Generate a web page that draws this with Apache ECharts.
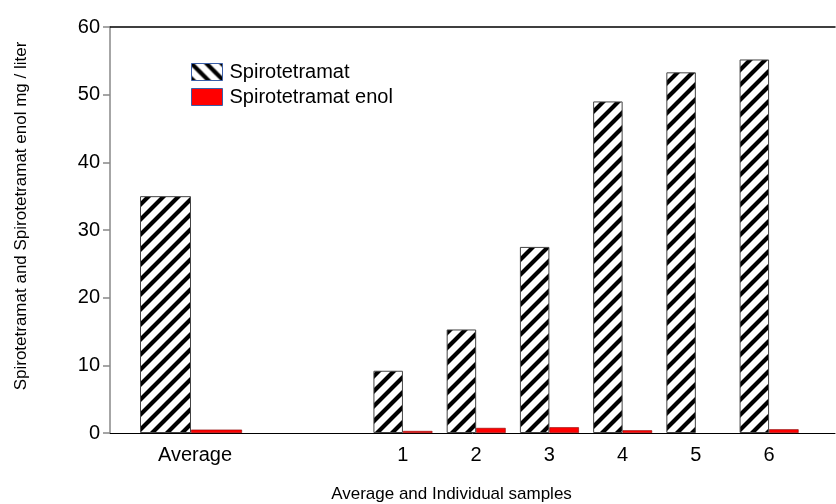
<!DOCTYPE html>
<html>
<head>
<meta charset="utf-8">
<script src="https://cdn.jsdelivr.net/npm/echarts@6/dist/echarts.min.js"></script>
<style>
html,body{margin:0;padding:0;background:#fff;}
#chart{width:836px;height:504px;}
</style>
</head>
<body>
<div id="chart"></div>
<script>
// ---- data ----
var sampleLabels = ['1', '2', '3', '4', '5', '6'];
var spiroSamples = [9.2, 15.3, 27.5, 49.0, 53.3, 55.2];
var enolSamples = [0.3, 0.75, 0.85, 0.4, null, 0.55];
var averageLabel = 'Average';
var spiroAverage = [35.0];
var enolAverage = [0.5];
var seriesNames = ['Spirotetramat', 'Spirotetramat enol'];
var yTicks = [0, 10, 20, 30, 40, 50, 60];

function hatch(back) {
  var s = 15;
  var c = document.createElement('canvas');
  c.width = s; c.height = s;
  var g = c.getContext('2d');
  g.fillStyle = '#fff';
  g.fillRect(0, 0, s, s);
  g.strokeStyle = '#000';
  g.lineWidth = 4.2;
  g.beginPath();
  for (var k = -1; k <= 1; k++) {
    var x0 = k * s;
    if (back) { g.moveTo(x0 - 2, -2); g.lineTo(x0 + s + 2, s + 2); }
    else { g.moveTo(x0 - 2, s + 2); g.lineTo(x0 + s + 2, -2); }
  }
  g.stroke();
  return { image: c, repeat: 'repeat' };
}

var fwd = hatch(false);
var bwd = hatch(true);

var chart = echarts.init(document.getElementById('chart'), null, { renderer: 'canvas' });
var font = '"Liberation Sans", Arial, sans-serif';

var samplePts = function (arr) { return arr.map(function (v, i) { return [i + 1, v == null ? '-' : v]; }); };

var option = {
  animation: false,
  backgroundColor: '#fff',
  textStyle: { fontFamily: font, color: '#000' },
  grid: { left: 110, right: 1, top: 27, bottom: 71, containLabel: false, outerBoundsMode: 'none' },
  legend: {
    orient: 'vertical',
    left: 191, top: 62, padding: 0,
    itemWidth: 31, itemHeight: 17, itemGap: 5,
    selectedMode: false,
    textStyle: { fontSize: 20, color: '#000', fontFamily: font, padding: [0, 0, 0, 2] },
    data: [
      { name: seriesNames[0], icon: 'rect', itemStyle: { color: bwd, borderColor: '#3a5ea8', borderWidth: 1 } },
      { name: seriesNames[1], icon: 'rect', itemStyle: { color: '#ff0000', borderColor: '#3a5ea8', borderWidth: 1 } }
    ]
  },
  xAxis: [
    {
      type: 'value', position: 'bottom', min: -3, max: 6.9, interval: 1,
      name: 'Average and Individual samples', nameLocation: 'middle', nameGap: 53,
      nameTextStyle: { fontSize: 17, color: '#000', fontFamily: font, padding: [0, 42, 0, 0] },
      axisLine: { show: true, onZero: false, lineStyle: { color: '#000', width: 1 } },
      axisTick: { show: false },
      splitLine: { show: false },
      axisLabel: {
        fontSize: 20, color: '#000', margin: 12, fontFamily: font,
        showMinLabel: false, showMaxLabel: false,
        formatter: function (v) {
          var i = Math.round(v);
          if (Math.abs(v - i) > 1e-6 || i < 1 || i > sampleLabels.length) return '';
          return sampleLabels[i - 1];
        }
      }
    },
    {
      type: 'value', position: 'bottom', min: 0, max: 725 / 81, interval: 1,
      axisLine: { show: false, onZero: false }, axisTick: { show: false }, splitLine: { show: false },
      axisLabel: {
        fontSize: 20, color: '#000', margin: 12, fontFamily: font,
        showMinLabel: false, showMaxLabel: false,
        formatter: function (v) { return Math.abs(v - 1) < 1e-6 ? averageLabel : ''; },
        padding: [0, 0, 0, 8]
      }
    },
    {
      type: 'value', position: 'top', min: 0, max: 1,
      axisLine: { show: true, onZero: false, lineStyle: { color: '#000', width: 1.5 } },
      axisTick: { show: false }, axisLabel: { show: false }, splitLine: { show: false }
    }
  ],
  yAxis: {
    type: 'value', min: yTicks[0], max: yTicks[yTicks.length - 1], interval: 10,
    name: 'Spirotetramat and Spirotetramat enol mg / liter',
    nameLocation: 'middle', nameGap: 80, nameRotate: 90,
    nameTextStyle: { fontSize: 17, color: '#000', fontFamily: font, padding: [0, 0, 0, 28] },
    axisLine: { show: true, onZero: false, lineStyle: { color: '#888', width: 1.5 } },
    axisTick: { show: true, inside: false, length: 7, lineStyle: { color: '#888', width: 1.5 } },
    splitLine: { show: false },
    axisLabel: { fontSize: 20, color: '#000', margin: 10, fontFamily: font }
  },
  series: [
    {
      name: seriesNames[0], type: 'bar', xAxisIndex: 1, barWidth: 51, barGap: '0%',
      itemStyle: { color: fwd, borderColor: '#444', borderWidth: 1 },
      data: spiroAverage.map(function (v) { return [1, v]; })
    },
    {
      name: seriesNames[1], type: 'bar', xAxisIndex: 1, barWidth: 51, barGap: '0%',
      itemStyle: { color: '#ff0000', borderColor: '#8b0000', borderWidth: 0.6 },
      data: enolAverage.map(function (v) { return [1, v]; })
    },
    {
      name: seriesNames[0], type: 'bar', xAxisIndex: 0, barWidth: 29.5, barGap: '0%',
      itemStyle: { color: fwd, borderColor: '#444', borderWidth: 1 },
      data: samplePts(spiroSamples)
    },
    {
      name: seriesNames[1], type: 'bar', xAxisIndex: 0, barWidth: 29.5, barGap: '0%',
      itemStyle: { color: '#ff0000', borderColor: '#8b0000', borderWidth: 0.6 },
      data: samplePts(enolSamples)
    }
  ]
};
chart.setOption(option);
</script>
</body>
</html>
